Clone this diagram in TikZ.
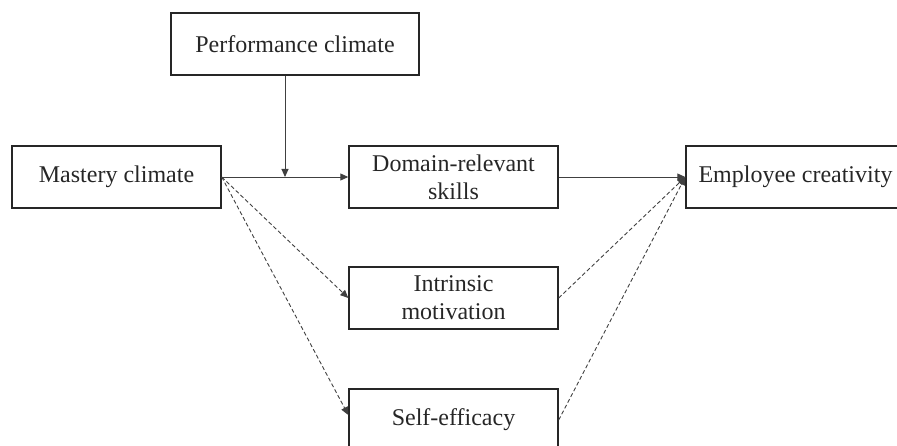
\documentclass[tikz,border=0pt]{standalone}
\usepackage{fontspec}
\setmainfont{Liberation Serif}
\usetikzlibrary{arrows.meta}
\begin{document}
\begin{tikzpicture}[x=1pt,y=-1pt,
  box/.style={draw=black!85,line width=1.4pt,inner sep=0pt,minimum width=209pt,minimum height=62pt,align=center,text=black!85,font=\fontsize{24}{28}\selectfont},
  conn/.style={draw=black!75,line width=0.9pt,-{Triangle[length=8pt,width=7pt]}},
  dconn/.style={conn,dash pattern=on 4pt off 2.5pt}]
\useasboundingbox (0,0) rectangle (897,446);
\clip (0,0) rectangle (897,446);
\node[box,minimum width=248pt] (perf) at (295,44) {Performance climate};
\node[box] (mastery) at (116.5,177) {Mastery climate};
\node[box] (domain) at (453.5,177) {Domain-relevant\\skills};
\node[box] (intr) at (453.5,298) {Intrinsic\\motivation};
\node[box] (self) at (453.5,420) {Self-efficacy};
\node[box,minimum width=219pt] (emp) at (795.5,177) {Employee creativity};
\coordinate (join) at (285,177);
\draw[conn] (mastery.east) -- (domain.west);
\draw[conn] (join |- perf.south) -- (join);
\draw[conn] (domain.east) -- (emp.west);
\draw[dconn] (mastery.east) -- (intr.west);
\draw[dconn] (mastery.east) -- ([yshift=5pt]self.west);
\draw[dconn] (intr.east) -- (emp.west);
\draw[dconn] (self.east) -- (emp.west);
\end{tikzpicture}
\end{document}
